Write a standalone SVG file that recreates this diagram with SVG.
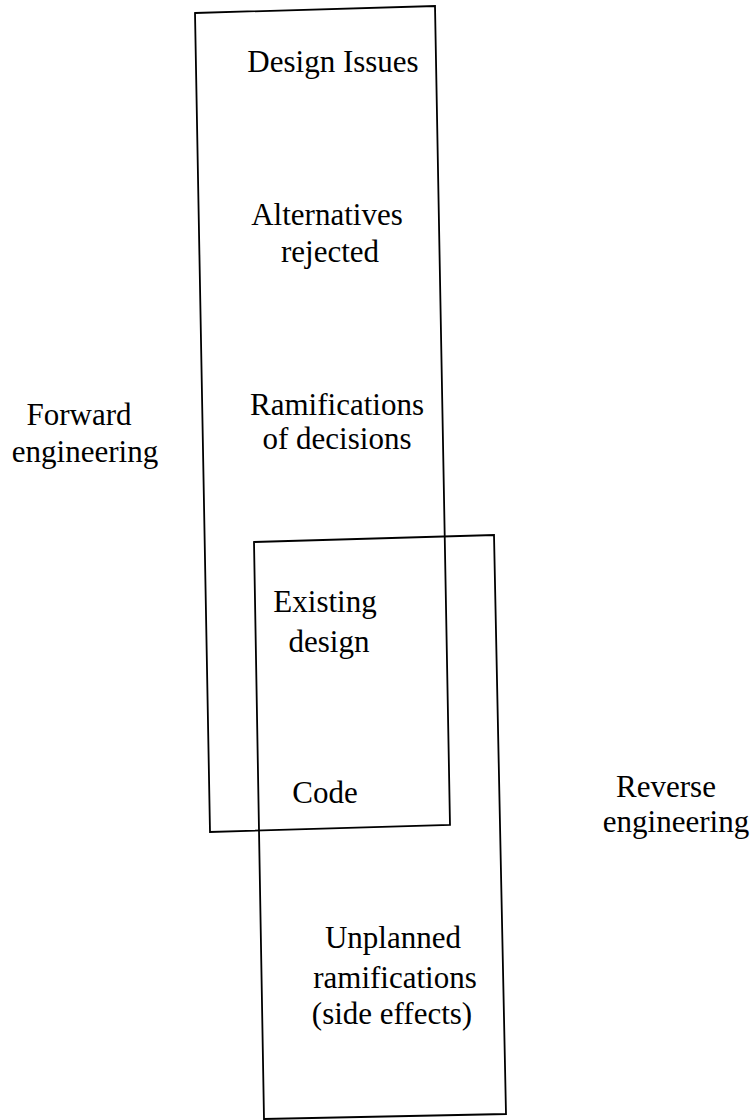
<svg xmlns="http://www.w3.org/2000/svg" width="756" height="1120" viewBox="0 0 756 1120">
<style>
.box{fill:none;stroke:#000;stroke-width:1.8;stroke-linejoin:miter}
text{font-family:"Liberation Serif","Times New Roman",serif;font-size:31px;fill:#000;text-anchor:middle}
</style>
<rect width="756" height="1120" fill="#fff"/>
<g id="connectors"></g>
<g id="forward-box">
<polygon class="box" points="195,13 435,6 450,825 210,832"/>
</g>
<g id="reverse-box">
<polygon class="box" points="254,542 494,535 506,1114 264,1119"/>
</g>
<g id="design-issues"><text x="333" y="72">Design Issues</text></g>
<g id="alternatives"><text x="327" y="225">Alternatives</text><text x="330" y="262">rejected</text></g>
<g id="ramifications"><text x="337" y="415">Ramifications</text><text x="337" y="449">of decisions</text></g>
<g id="existing-design"><text x="325" y="612">Existing</text><text x="329" y="652">design</text></g>
<g id="code"><text x="325" y="803">Code</text></g>
<g id="unplanned"><text x="393" y="948">Unplanned</text><text x="395" y="988">ramifications</text><text x="392" y="1024">(side effects)</text></g>
<g id="forward-label"><text x="79" y="425">Forward</text><text x="85" y="462">engineering</text></g>
<g id="reverse-label"><text x="666" y="797">Reverse</text><text x="676" y="832">engineering</text></g>
</svg>
